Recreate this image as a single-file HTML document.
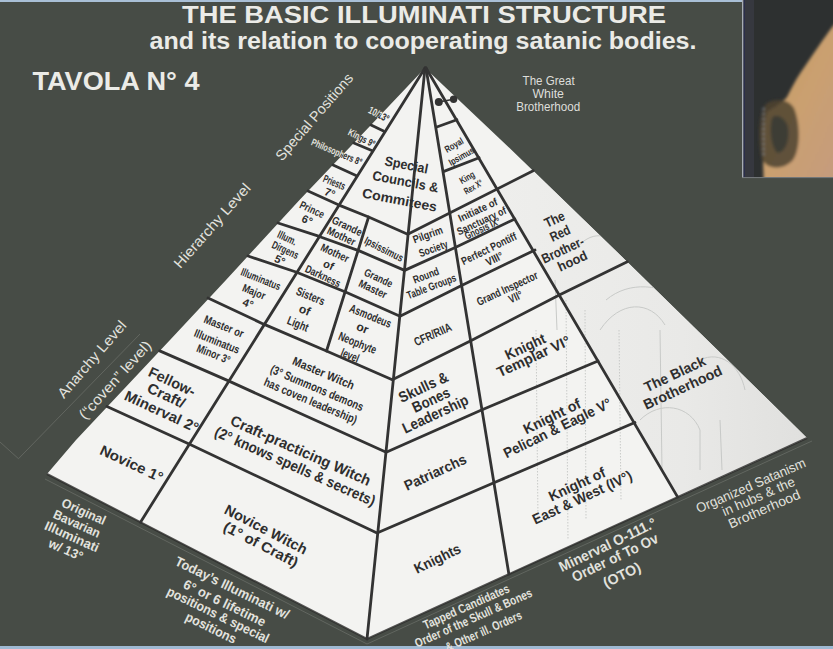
<!DOCTYPE html>
<html><head><meta charset="utf-8"><style>
html,body{margin:0;padding:0;background:#474c46;}
body{width:833px;height:649px;overflow:hidden;position:relative;font-family:"Liberation Sans",sans-serif;}
</style></head><body>
<svg width="833" height="649" viewBox="0 0 833 649" style="position:absolute;left:0;top:0"><defs><clipPath id="pyrclip"><polygon points="425.0,68.0 371.0,125.0 299.5,200.0 226.0,280.0 170.0,340.0 76.0,440.0 47.0,474.0 367.0,639.0 807.0,438.0 717.4,350.0 615.0,250.0 511.6,150.0"/></clipPath><linearGradient id="bgg" x1="0" y1="0" x2="0" y2="1"><stop offset="0" stop-color="#43463f"/><stop offset="1" stop-color="#3a3c38"/></linearGradient></defs><rect width="833" height="649" fill="#474c46"/><g stroke="#9a9c96" stroke-width="0.8" fill="none" opacity="0.4"><polyline points="0.0,442.0 18.5,458.7 140.0,334.0"/><polyline points="45.0,479.0 367.0,644.0 812.0,441.0"/></g><rect x="0" y="0" width="833" height="2" fill="#a9bfd6"/><rect x="0" y="646" width="833" height="3" fill="#9fb9d3"/><defs><linearGradient id="skin" x1="0" y1="0" x2="1" y2="1"><stop offset="0" stop-color="#c29a5e"/><stop offset="0.5" stop-color="#caa070"/><stop offset="1" stop-color="#c49a80"/></linearGradient></defs><rect x="742" y="0" width="91" height="178" fill="#2b2d2e"/><rect x="742" y="0" width="91" height="178" fill="#2f3331" opacity="0.5"/><rect x="745" y="0" width="9" height="178" fill="#383b44" opacity="0.8"/><defs><filter id="pb" x="-10%" y="-10%" width="120%" height="120%"><feGaussianBlur stdDeviation="1.6"/></filter><clipPath id="photoclip"><rect x="744" y="0" width="89" height="177"/></clipPath></defs><g clip-path="url(#photoclip)"><g filter="url(#pb)"><path d="M845,14 L833,26 C824,38 812,56 801,72 C795,81 791,89 787,97 C781,104 774,107 767,112 L762,130 L764,190 L845,190 Z" fill="url(#skin)"/><path d="M766,104 C758,115 758,142 762,160 C768,170 784,170 793,160 C801,148 800,122 794,108 C788,98 774,98 766,104 Z" fill="#4f4330" opacity="0.85"/><path d="M772,118 C769,130 771,146 777,153 C785,153 790,141 788,127 C785,117 776,113 772,118 Z" fill="#353a33" opacity="0.8"/><line x1="763.5" y1="108" x2="763.5" y2="158" stroke="#9aa3ae" stroke-width="1.6" stroke-dasharray="2 3" opacity="0.8"/></g></g><line x1="742.8" y1="0" x2="742.8" y2="178" stroke="#d0d6e0" stroke-width="1.1"/><line x1="744.2" y1="0" x2="744.2" y2="178" stroke="#2a2e58" stroke-width="1"/><line x1="742" y1="177.6" x2="833" y2="177.6" stroke="#7a7e80" stroke-width="1"/><polygon points="425.0,68.0 371.0,125.0 299.5,200.0 226.0,280.0 170.0,340.0 76.0,440.0 47.0,474.0 367.0,639.0 807.0,438.0 717.4,350.0 615.0,250.0 511.6,150.0" fill="#f3f3f1"/><defs><linearGradient id="rf3g" x1="0" y1="0" x2="1" y2="0"><stop offset="0" stop-color="#eeeeec"/><stop offset="0.6" stop-color="#e9e9e7"/><stop offset="1" stop-color="#e0e0de"/></linearGradient></defs><polygon points="497.3,189.0 533.2,170.7 615.0,250.0 717.4,350.0 807.0,438.0 677.7,497.1" fill="url(#rf3g)"/><g stroke="#c4c6c4" stroke-width="1" fill="none" opacity="0.9" clip-path="url(#pyrclip)"><path d="M536,330 L538,520 M566,300 L568,540 M585,310 L586,520 M619,330 L621,500" stroke-dasharray="1.5 1.5"/><path d="M600,330 C620,300 650,300 665,325 M660,330 L662,470 M700,360 C720,350 740,365 745,390 M640,420 C660,400 690,405 700,430 L700,470 M606,300 C630,280 660,285 690,300 M720,420 L722,470 M575,250 C590,230 610,232 620,250 M555,280 L557,330"/></g><polyline points="47.0,474.0 367.0,639.0 807.0,438.0" fill="none" stroke="#2a2b29" stroke-width="2" opacity="0.8"/><polyline points="425.0,68.0 367.0,639.0" fill="none" stroke="#333333" stroke-width="2.8" stroke-linejoin="round" stroke-linecap="round"/><polyline points="425.0,68.0 140.5,522.2" fill="none" stroke="#333333" stroke-width="2.8" stroke-linejoin="round" stroke-linecap="round"/><polyline points="368.6,217.0 326.5,351.0" fill="none" stroke="#333333" stroke-width="2.8" stroke-linejoin="round" stroke-linecap="round"/><polyline points="426.0,68.0 508.9,574.2" fill="none" stroke="#333333" stroke-width="2.8" stroke-linejoin="round" stroke-linecap="round"/><polyline points="426.0,68.0 677.7,497.1" fill="none" stroke="#333333" stroke-width="2.8" stroke-linejoin="round" stroke-linecap="round"/><polyline points="308.0,191.0 337.8,204.6 368.6,217.0 407.7,234.3 533.2,170.7" fill="none" stroke="#333333" stroke-width="2.8" stroke-linejoin="round" stroke-linecap="round"/><polyline points="278.0,223.0 318.5,236.2 359.3,250.9 404.6,270.4 456.3,247.0 514.8,219.0" fill="none" stroke="#333333" stroke-width="2.8" stroke-linejoin="round" stroke-linecap="round"/><polyline points="248.0,256.0 296.0,272.0 345.5,292.0 400.0,316.2 461.6,285.4 535.0,250.0" fill="none" stroke="#333333" stroke-width="2.8" stroke-linejoin="round" stroke-linecap="round"/><polyline points="208.0,298.0 263.1,323.9 326.5,351.0 392.3,379.7 471.3,340.5 559.3,295.0 627.3,261.7" fill="none" stroke="#333333" stroke-width="2.8" stroke-linejoin="round" stroke-linecap="round"/><polyline points="159.7,350.9 228.5,380.9 386.2,452.3 481.5,410.0 598.0,361.0" fill="none" stroke="#333333" stroke-width="2.8" stroke-linejoin="round" stroke-linecap="round"/><polyline points="107.0,406.5 189.1,444.0 377.0,533.0 494.5,482.5 634.9,422.5" fill="none" stroke="#333333" stroke-width="2.8" stroke-linejoin="round" stroke-linecap="round"/><polyline points="371.0,125.0 383.5,131.0" fill="none" stroke="#333333" stroke-width="2.8" stroke-linejoin="round" stroke-linecap="round"/><polyline points="353.8,143.0 371.7,150.5" fill="none" stroke="#333333" stroke-width="2.8" stroke-linejoin="round" stroke-linecap="round"/><polyline points="333.0,165.0 356.0,175.5" fill="none" stroke="#333333" stroke-width="2.8" stroke-linejoin="round" stroke-linecap="round"/><polyline points="436.8,127.0 456.9,119.8" fill="none" stroke="#333333" stroke-width="2.8" stroke-linejoin="round" stroke-linecap="round"/><polyline points="443.9,171.4 479.1,157.8" fill="none" stroke="#333333" stroke-width="2.8" stroke-linejoin="round" stroke-linecap="round"/><circle cx="438.8" cy="102" r="4" fill="#333333"/><circle cx="453.6" cy="99.2" r="3.7" fill="#333333"/><line x1="438.8" y1="102" x2="453.6" y2="99.2" stroke="#333333" stroke-width="1.6"/><g font-family="Liberation Sans, sans-serif"><g transform="translate(182.0,23.1) rotate(0)"><text text-anchor="start" font-size="24" font-weight="bold" fill="#ebebe7"><tspan x="0" y="0.00" textLength="484" lengthAdjust="spacingAndGlyphs">THE BASIC ILLUMINATI STRUCTURE</tspan></text></g><g transform="translate(149.5,49.0) rotate(0)"><text text-anchor="start" font-size="23" font-weight="bold" fill="#ebebe7"><tspan x="0" y="0.00" textLength="547" lengthAdjust="spacingAndGlyphs">and its relation to cooperating satanic bodies.</tspan></text></g><g transform="translate(32.5,90.0) rotate(0)"><text text-anchor="start" font-size="26.5" font-weight="bold" fill="#ebebe7"><tspan x="0" y="0.00" textLength="167" lengthAdjust="spacingAndGlyphs">TAVOLA N° 4</tspan></text></g><g transform="translate(548.6,85.0) rotate(0)"><text text-anchor="middle" font-size="13.5" font-weight="normal" fill="#dededa"><tspan x="0" y="0.00" textLength="52" lengthAdjust="spacingAndGlyphs">The Great</tspan></text></g><g transform="translate(548.2,97.5) rotate(0)"><text text-anchor="middle" font-size="13.5" font-weight="normal" fill="#dededa"><tspan x="0" y="0.00" textLength="31.5" lengthAdjust="spacingAndGlyphs">White</tspan></text></g><g transform="translate(548.2,110.5) rotate(0)"><text text-anchor="middle" font-size="13.5" font-weight="normal" fill="#dededa"><tspan x="0" y="0.00" textLength="64" lengthAdjust="spacingAndGlyphs">Brotherhood</tspan></text></g><g transform="translate(282.0,161.7) rotate(-49.05)"><text text-anchor="start" font-size="14.5" font-weight="normal" fill="#e2e2de"><tspan x="0" y="0.00" textLength="110.0" lengthAdjust="spacingAndGlyphs">Special Positions</tspan></text></g><g transform="translate(180.3,269.2) rotate(-48.54)"><text text-anchor="start" font-size="14.5" font-weight="normal" fill="#e2e2de"><tspan x="0" y="0.00" textLength="107.5" lengthAdjust="spacingAndGlyphs">Hierarchy Level</tspan></text></g><g transform="translate(64.0,399.2) rotate(-49.19)"><text text-anchor="start" font-size="14.5" font-weight="normal" fill="#e2e2de"><tspan x="0" y="0.00" textLength="96.7" lengthAdjust="spacingAndGlyphs">Anarchy Level</tspan></text></g><g transform="translate(85.1,420.2) rotate(-47.84)"><text text-anchor="start" font-size="14.5" font-weight="normal" fill="#e2e2de"><tspan x="0" y="0.00" textLength="100.0" lengthAdjust="spacingAndGlyphs">(“coven” level)</tspan></text></g><g transform="translate(379.0,114.0) rotate(27)"><text text-anchor="middle" dominant-baseline="central" font-size="10.5" font-weight="bold" fill="#e2e2de"><tspan x="0" y="0.00" textLength="22" lengthAdjust="spacingAndGlyphs">10/13°</tspan></text></g><g transform="translate(362.0,137.5) rotate(27)"><text text-anchor="middle" dominant-baseline="central" font-size="10" font-weight="bold" fill="#e2e2de"><tspan x="0" y="0.00" textLength="29" lengthAdjust="spacingAndGlyphs">Kings 9°</tspan></text></g><g transform="translate(337.0,151.5) rotate(23)"><text text-anchor="middle" dominant-baseline="central" font-size="10" font-weight="bold" fill="#e2e2de"><tspan x="0" y="0.00" textLength="54" lengthAdjust="spacingAndGlyphs">Philosophers 8°</tspan></text></g><g clip-path="url(#pyrclip)"><g transform="translate(379.0,114.0) rotate(27)"><text text-anchor="middle" dominant-baseline="central" font-size="10.5" font-weight="bold" fill="#2e2e2e"><tspan x="0" y="0.00" textLength="22" lengthAdjust="spacingAndGlyphs">10/13°</tspan></text></g></g><g clip-path="url(#pyrclip)"><g transform="translate(362.0,137.5) rotate(27)"><text text-anchor="middle" dominant-baseline="central" font-size="10" font-weight="bold" fill="#2e2e2e"><tspan x="0" y="0.00" textLength="29" lengthAdjust="spacingAndGlyphs">Kings 9°</tspan></text></g></g><g clip-path="url(#pyrclip)"><g transform="translate(337.0,151.5) rotate(23)"><text text-anchor="middle" dominant-baseline="central" font-size="10" font-weight="bold" fill="#2e2e2e"><tspan x="0" y="0.00" textLength="54" lengthAdjust="spacingAndGlyphs">Philosophers 8°</tspan></text></g></g><g transform="translate(334.4,182.2) rotate(22)"><text text-anchor="middle" dominant-baseline="central" font-size="11" font-weight="bold" fill="#2e2e2e"><tspan x="0" y="0.00" textLength="23" lengthAdjust="spacingAndGlyphs">Priests</tspan></text></g><g transform="translate(330.0,192.7) rotate(22)"><text text-anchor="middle" dominant-baseline="central" font-size="11" font-weight="bold" fill="#2e2e2e"><tspan x="0" y="0.00">7°</tspan></text></g><g transform="translate(312.2,209.3) rotate(25)"><text text-anchor="middle" dominant-baseline="central" font-size="11" font-weight="bold" fill="#2e2e2e"><tspan x="0" y="0.00" textLength="26" lengthAdjust="spacingAndGlyphs">Prince</tspan></text></g><g transform="translate(307.3,219.8) rotate(25)"><text text-anchor="middle" dominant-baseline="central" font-size="11" font-weight="bold" fill="#2e2e2e"><tspan x="0" y="0.00">6°</tspan></text></g><g transform="translate(287.3,237.7) rotate(25)"><text text-anchor="middle" dominant-baseline="central" font-size="11" font-weight="bold" fill="#2e2e2e"><tspan x="0" y="0.00" textLength="20" lengthAdjust="spacingAndGlyphs">Illum.</tspan></text></g><g transform="translate(285.5,249.7) rotate(25)"><text text-anchor="middle" dominant-baseline="central" font-size="11" font-weight="bold" fill="#2e2e2e"><tspan x="0" y="0.00" textLength="28" lengthAdjust="spacingAndGlyphs">Dirgens</tspan></text></g><g transform="translate(280.0,259.9) rotate(25)"><text text-anchor="middle" dominant-baseline="central" font-size="11" font-weight="bold" fill="#2e2e2e"><tspan x="0" y="0.00">5°</tspan></text></g><g transform="translate(260.9,278.9) rotate(22)"><text text-anchor="middle" dominant-baseline="central" font-size="11" font-weight="bold" fill="#2e2e2e"><tspan x="0" y="0.00" textLength="42" lengthAdjust="spacingAndGlyphs">Illuminatus</tspan></text></g><g transform="translate(254.0,291.6) rotate(22)"><text text-anchor="middle" dominant-baseline="central" font-size="11" font-weight="bold" fill="#2e2e2e"><tspan x="0" y="0.00" textLength="24" lengthAdjust="spacingAndGlyphs">Major</tspan></text></g><g transform="translate(248.2,303.2) rotate(22)"><text text-anchor="middle" dominant-baseline="central" font-size="11" font-weight="bold" fill="#2e2e2e"><tspan x="0" y="0.00">4°</tspan></text></g><g transform="translate(223.9,326.3) rotate(22)"><text text-anchor="middle" dominant-baseline="central" font-size="11.5" font-weight="bold" fill="#2e2e2e"><tspan x="0" y="0.00" textLength="42" lengthAdjust="spacingAndGlyphs">Master or</tspan></text></g><g transform="translate(217.0,341.3) rotate(22)"><text text-anchor="middle" dominant-baseline="central" font-size="11.5" font-weight="bold" fill="#2e2e2e"><tspan x="0" y="0.00" textLength="48" lengthAdjust="spacingAndGlyphs">Illuminatus</tspan></text></g><g transform="translate(213.5,354.0) rotate(22)"><text text-anchor="middle" dominant-baseline="central" font-size="11.5" font-weight="bold" fill="#2e2e2e"><tspan x="0" y="0.00" textLength="35" lengthAdjust="spacingAndGlyphs">Minor 3°</tspan></text></g><g transform="translate(172.0,381.6) rotate(25)"><text text-anchor="middle" dominant-baseline="central" font-size="14.5" font-weight="bold" fill="#2e2e2e"><tspan x="0" y="0.00" textLength="50" lengthAdjust="spacingAndGlyphs">Fellow-</tspan></text></g><g transform="translate(166.3,395.5) rotate(25)"><text text-anchor="middle" dominant-baseline="central" font-size="14.5" font-weight="bold" fill="#2e2e2e"><tspan x="0" y="0.00" textLength="40" lengthAdjust="spacingAndGlyphs">Craft/</tspan></text></g><g transform="translate(161.6,411.6) rotate(25)"><text text-anchor="middle" dominant-baseline="central" font-size="14.5" font-weight="bold" fill="#2e2e2e"><tspan x="0" y="0.00" textLength="80" lengthAdjust="spacingAndGlyphs">Minerval 2°</tspan></text></g><g transform="translate(131.6,463.6) rotate(25)"><text text-anchor="middle" dominant-baseline="central" font-size="14.5" font-weight="bold" fill="#2e2e2e"><tspan x="0" y="0.00" textLength="68" lengthAdjust="spacingAndGlyphs">Novice 1°</tspan></text></g><g transform="translate(406.5,164.5) rotate(11)"><text text-anchor="middle" dominant-baseline="central" font-size="13.5" font-weight="bold" fill="#2e2e2e"><tspan x="0" y="0.00" textLength="44" lengthAdjust="spacingAndGlyphs">Special</tspan></text></g><g transform="translate(405.6,181.3) rotate(11)"><text text-anchor="middle" dominant-baseline="central" font-size="13.5" font-weight="bold" fill="#2e2e2e"><tspan x="0" y="0.00" textLength="67" lengthAdjust="spacingAndGlyphs">Councils &amp;</tspan></text></g><g transform="translate(399.7,199.7) rotate(11)"><text text-anchor="middle" dominant-baseline="central" font-size="13.5" font-weight="bold" fill="#2e2e2e"><tspan x="0" y="0.00" textLength="76" lengthAdjust="spacingAndGlyphs">Commitees</tspan></text></g><g transform="translate(347.2,225.9) rotate(25)"><text text-anchor="middle" dominant-baseline="central" font-size="11" font-weight="bold" fill="#2e2e2e"><tspan x="0" y="0.00" textLength="32" lengthAdjust="spacingAndGlyphs">Grande</tspan></text></g><g transform="translate(341.6,236.0) rotate(25)"><text text-anchor="middle" dominant-baseline="central" font-size="11" font-weight="bold" fill="#2e2e2e"><tspan x="0" y="0.00" textLength="30" lengthAdjust="spacingAndGlyphs">Mother</tspan></text></g><g transform="translate(384.1,249.0) rotate(27)"><text text-anchor="middle" dominant-baseline="central" font-size="11" font-weight="bold" fill="#2e2e2e"><tspan x="0" y="0.00" textLength="42" lengthAdjust="spacingAndGlyphs">Ipsissimus</tspan></text></g><g transform="translate(335.1,252.7) rotate(25)"><text text-anchor="middle" dominant-baseline="central" font-size="11" font-weight="bold" fill="#2e2e2e"><tspan x="0" y="0.00" textLength="30" lengthAdjust="spacingAndGlyphs">Mother</tspan></text></g><g transform="translate(328.7,264.7) rotate(25)"><text text-anchor="middle" dominant-baseline="central" font-size="11" font-weight="bold" fill="#2e2e2e"><tspan x="0" y="0.00">of</tspan></text></g><g transform="translate(323.1,275.8) rotate(25)"><text text-anchor="middle" dominant-baseline="central" font-size="11" font-weight="bold" fill="#2e2e2e"><tspan x="0" y="0.00" textLength="38" lengthAdjust="spacingAndGlyphs">Darkness</tspan></text></g><g transform="translate(378.6,277.7) rotate(25)"><text text-anchor="middle" dominant-baseline="central" font-size="11" font-weight="bold" fill="#2e2e2e"><tspan x="0" y="0.00" textLength="30" lengthAdjust="spacingAndGlyphs">Grande</tspan></text></g><g transform="translate(373.0,288.8) rotate(25)"><text text-anchor="middle" dominant-baseline="central" font-size="11" font-weight="bold" fill="#2e2e2e"><tspan x="0" y="0.00" textLength="30" lengthAdjust="spacingAndGlyphs">Master</tspan></text></g><g transform="translate(310.6,296.2) rotate(22)"><text text-anchor="middle" dominant-baseline="central" font-size="12" font-weight="bold" fill="#2e2e2e"><tspan x="0" y="0.00" textLength="30" lengthAdjust="spacingAndGlyphs">Sisters</tspan></text></g><g transform="translate(304.8,310.1) rotate(22)"><text text-anchor="middle" dominant-baseline="central" font-size="12" font-weight="bold" fill="#2e2e2e"><tspan x="0" y="0.00">of</tspan></text></g><g transform="translate(297.9,324.0) rotate(22)"><text text-anchor="middle" dominant-baseline="central" font-size="12" font-weight="bold" fill="#2e2e2e"><tspan x="0" y="0.00" textLength="22" lengthAdjust="spacingAndGlyphs">Light</tspan></text></g><g transform="translate(370.5,316.0) rotate(22)"><text text-anchor="middle" dominant-baseline="central" font-size="12" font-weight="bold" fill="#2e2e2e"><tspan x="0" y="0.00" textLength="44" lengthAdjust="spacingAndGlyphs">Asmodeus</tspan></text></g><g transform="translate(362.5,328.0) rotate(22)"><text text-anchor="middle" dominant-baseline="central" font-size="12" font-weight="bold" fill="#2e2e2e"><tspan x="0" y="0.00">or</tspan></text></g><g transform="translate(357.5,343.0) rotate(22)"><text text-anchor="middle" dominant-baseline="central" font-size="12" font-weight="bold" fill="#2e2e2e"><tspan x="0" y="0.00" textLength="40" lengthAdjust="spacingAndGlyphs">Neophyte</tspan></text></g><g transform="translate(350.0,355.5) rotate(22)"><text text-anchor="middle" dominant-baseline="central" font-size="12" font-weight="bold" fill="#2e2e2e"><tspan x="0" y="0.00" textLength="19" lengthAdjust="spacingAndGlyphs">level</tspan></text></g><g transform="translate(323.5,373.2) rotate(23)"><text text-anchor="middle" dominant-baseline="central" font-size="12" font-weight="bold" fill="#2e2e2e"><tspan x="0" y="0.00" textLength="66" lengthAdjust="spacingAndGlyphs">Master Witch</tspan></text></g><g transform="translate(317.0,388.2) rotate(23)"><text text-anchor="middle" dominant-baseline="central" font-size="12" font-weight="bold" fill="#2e2e2e"><tspan x="0" y="0.00" textLength="100" lengthAdjust="spacingAndGlyphs">(3° Summons demons</tspan></text></g><g transform="translate(310.5,400.9) rotate(23)"><text text-anchor="middle" dominant-baseline="central" font-size="12" font-weight="bold" fill="#2e2e2e"><tspan x="0" y="0.00" textLength="100" lengthAdjust="spacingAndGlyphs">has coven leadership)</tspan></text></g><g transform="translate(301.0,449.8) rotate(24)"><text text-anchor="middle" dominant-baseline="central" font-size="15" font-weight="bold" fill="#2e2e2e"><tspan x="0" y="0.00" textLength="152" lengthAdjust="spacingAndGlyphs">Craft-practicing Witch</tspan></text></g><g transform="translate(295.5,465.5) rotate(24)"><text text-anchor="middle" dominant-baseline="central" font-size="15" font-weight="bold" fill="#2e2e2e"><tspan x="0" y="0.00" textLength="174" lengthAdjust="spacingAndGlyphs">(2° knows spells &amp; secrets)</tspan></text></g><g transform="translate(266.0,529.5) rotate(27.5)"><text text-anchor="middle" dominant-baseline="central" font-size="14.5" font-weight="bold" fill="#2e2e2e"><tspan x="0" y="0.00" textLength="91" lengthAdjust="spacingAndGlyphs">Novice Witch</tspan></text></g><g transform="translate(261.0,544.5) rotate(27.5)"><text text-anchor="middle" dominant-baseline="central" font-size="14.5" font-weight="bold" fill="#2e2e2e"><tspan x="0" y="0.00" textLength="82" lengthAdjust="spacingAndGlyphs">(1° of Craft)</tspan></text></g><g transform="translate(427.7,234.5) rotate(-20)"><text text-anchor="middle" dominant-baseline="central" font-size="11" font-weight="bold" fill="#2e2e2e"><tspan x="0" y="0.00" textLength="31" lengthAdjust="spacingAndGlyphs">Pilgrim</tspan></text></g><g transform="translate(433.3,248.4) rotate(-20)"><text text-anchor="middle" dominant-baseline="central" font-size="11" font-weight="bold" fill="#2e2e2e"><tspan x="0" y="0.00" textLength="30" lengthAdjust="spacingAndGlyphs">Society</tspan></text></g><g transform="translate(425.9,275.2) rotate(-21)"><text text-anchor="middle" dominant-baseline="central" font-size="11" font-weight="bold" fill="#2e2e2e"><tspan x="0" y="0.00" textLength="27" lengthAdjust="spacingAndGlyphs">Round</tspan></text></g><g transform="translate(431.4,286.3) rotate(-21)"><text text-anchor="middle" dominant-baseline="central" font-size="11" font-weight="bold" fill="#2e2e2e"><tspan x="0" y="0.00" textLength="52" lengthAdjust="spacingAndGlyphs">Table Groups</tspan></text></g><g transform="translate(432.8,334.5) rotate(-24)"><text text-anchor="middle" dominant-baseline="central" font-size="12" font-weight="bold" fill="#2e2e2e"><tspan x="0" y="0.00" textLength="40" lengthAdjust="spacingAndGlyphs">CFR/RIIA</tspan></text></g><g transform="translate(423.1,386.3) rotate(-25)"><text text-anchor="middle" dominant-baseline="central" font-size="15" font-weight="bold" fill="#2e2e2e"><tspan x="0" y="0.00" textLength="53" lengthAdjust="spacingAndGlyphs">Skulls &amp;</tspan></text></g><g transform="translate(430.7,399.2) rotate(-25)"><text text-anchor="middle" dominant-baseline="central" font-size="15" font-weight="bold" fill="#2e2e2e"><tspan x="0" y="0.00" textLength="40" lengthAdjust="spacingAndGlyphs">Bones</tspan></text></g><g transform="translate(435.0,413.2) rotate(-25)"><text text-anchor="middle" dominant-baseline="central" font-size="15" font-weight="bold" fill="#2e2e2e"><tspan x="0" y="0.00" textLength="71" lengthAdjust="spacingAndGlyphs">Leadership</tspan></text></g><g transform="translate(435.3,472.3) rotate(-25)"><text text-anchor="middle" dominant-baseline="central" font-size="14.5" font-weight="bold" fill="#2e2e2e"><tspan x="0" y="0.00" textLength="67" lengthAdjust="spacingAndGlyphs">Patriarchs</tspan></text></g><g transform="translate(437.4,558.6) rotate(-26)"><text text-anchor="middle" dominant-baseline="central" font-size="14.5" font-weight="bold" fill="#2e2e2e"><tspan x="0" y="0.00" textLength="50" lengthAdjust="spacingAndGlyphs">Knights</tspan></text></g><g transform="translate(453.6,144.5) rotate(-30)"><text text-anchor="middle" dominant-baseline="central" font-size="9.5" font-weight="bold" fill="#2e2e2e"><tspan x="0" y="0.00" textLength="20" lengthAdjust="spacingAndGlyphs">Royal</tspan></text></g><g transform="translate(461.0,155.6) rotate(-30)"><text text-anchor="middle" dominant-baseline="central" font-size="9.5" font-weight="bold" fill="#2e2e2e"><tspan x="0" y="0.00" textLength="28" lengthAdjust="spacingAndGlyphs">Ipsimus</tspan></text></g><g transform="translate(466.6,176.9) rotate(-30)"><text text-anchor="middle" dominant-baseline="central" font-size="9.5" font-weight="bold" fill="#2e2e2e"><tspan x="0" y="0.00" textLength="16" lengthAdjust="spacingAndGlyphs">King</tspan></text></g><g transform="translate(473.0,186.2) rotate(-30)"><text text-anchor="middle" dominant-baseline="central" font-size="9.5" font-weight="bold" fill="#2e2e2e"><tspan x="0" y="0.00" textLength="20" lengthAdjust="spacingAndGlyphs">Rex X°</tspan></text></g><g transform="translate(477.7,209.6) rotate(-25)"><text text-anchor="middle" dominant-baseline="central" font-size="10.5" font-weight="bold" fill="#2e2e2e"><tspan x="0" y="0.00" textLength="42" lengthAdjust="spacingAndGlyphs">Initiate of</tspan></text></g><g transform="translate(481.4,220.6) rotate(-25)"><text text-anchor="middle" dominant-baseline="central" font-size="10.5" font-weight="bold" fill="#2e2e2e"><tspan x="0" y="0.00" textLength="53" lengthAdjust="spacingAndGlyphs">Sanctuary of</tspan></text></g><g transform="translate(482.3,228.0) rotate(-25)"><text text-anchor="middle" dominant-baseline="central" font-size="10.5" font-weight="bold" fill="#2e2e2e"><tspan x="0" y="0.00" textLength="38" lengthAdjust="spacingAndGlyphs">Gnosis IX°</tspan></text></g><g transform="translate(488.8,248.4) rotate(-26)"><text text-anchor="middle" dominant-baseline="central" font-size="11" font-weight="bold" fill="#2e2e2e"><tspan x="0" y="0.00" textLength="60" lengthAdjust="spacingAndGlyphs">Perfect Pontiff</tspan></text></g><g transform="translate(494.3,258.6) rotate(-26)"><text text-anchor="middle" dominant-baseline="central" font-size="11" font-weight="bold" fill="#2e2e2e"><tspan x="0" y="0.00" textLength="18" lengthAdjust="spacingAndGlyphs">VIII°</tspan></text></g><g transform="translate(507.1,288.4) rotate(-25)"><text text-anchor="middle" dominant-baseline="central" font-size="11.5" font-weight="bold" fill="#2e2e2e"><tspan x="0" y="0.00" textLength="66" lengthAdjust="spacingAndGlyphs">Grand Inspector</tspan></text></g><g transform="translate(515.5,296.8) rotate(-25)"><text text-anchor="middle" dominant-baseline="central" font-size="11.5" font-weight="bold" fill="#2e2e2e"><tspan x="0" y="0.00" textLength="14" lengthAdjust="spacingAndGlyphs">VII°</tspan></text></g><g transform="translate(525.2,346.7) rotate(-25)"><text text-anchor="middle" dominant-baseline="central" font-size="14.5" font-weight="bold" fill="#2e2e2e"><tspan x="0" y="0.00" textLength="43" lengthAdjust="spacingAndGlyphs">Knight</tspan></text></g><g transform="translate(533.5,356.4) rotate(-25)"><text text-anchor="middle" dominant-baseline="central" font-size="14.5" font-weight="bold" fill="#2e2e2e"><tspan x="0" y="0.00" textLength="79" lengthAdjust="spacingAndGlyphs">Templar VI°</tspan></text></g><g transform="translate(552.0,416.3) rotate(-26)"><text text-anchor="middle" dominant-baseline="central" font-size="14.5" font-weight="bold" fill="#2e2e2e"><tspan x="0" y="0.00" textLength="62" lengthAdjust="spacingAndGlyphs">Knight of</tspan></text></g><g transform="translate(557.3,428.1) rotate(-26)"><text text-anchor="middle" dominant-baseline="central" font-size="14.5" font-weight="bold" fill="#2e2e2e"><tspan x="0" y="0.00" textLength="118" lengthAdjust="spacingAndGlyphs">Pelican &amp; Eagle V°</tspan></text></g><g transform="translate(577.0,484.4) rotate(-25)"><text text-anchor="middle" dominant-baseline="central" font-size="14.5" font-weight="bold" fill="#2e2e2e"><tspan x="0" y="0.00" textLength="61" lengthAdjust="spacingAndGlyphs">Knight of</tspan></text></g><g transform="translate(582.2,497.5) rotate(-25)"><text text-anchor="middle" dominant-baseline="central" font-size="14.5" font-weight="bold" fill="#2e2e2e"><tspan x="0" y="0.00" textLength="108" lengthAdjust="spacingAndGlyphs">East &amp; West (IV°)</tspan></text></g><g transform="translate(554.3,219.1) rotate(-25)"><text text-anchor="middle" dominant-baseline="central" font-size="13.5" font-weight="bold" fill="#2e2e2e"><tspan x="0" y="0.00" textLength="21" lengthAdjust="spacingAndGlyphs">The</tspan></text></g><g transform="translate(559.8,233.0) rotate(-25)"><text text-anchor="middle" dominant-baseline="central" font-size="13.5" font-weight="bold" fill="#2e2e2e"><tspan x="0" y="0.00" textLength="21" lengthAdjust="spacingAndGlyphs">Red</tspan></text></g><g transform="translate(562.6,249.6) rotate(-25)"><text text-anchor="middle" dominant-baseline="central" font-size="13.5" font-weight="bold" fill="#2e2e2e"><tspan x="0" y="0.00" textLength="45" lengthAdjust="spacingAndGlyphs">Brother-</tspan></text></g><g transform="translate(572.3,260.7) rotate(-25)"><text text-anchor="middle" dominant-baseline="central" font-size="13.5" font-weight="bold" fill="#2e2e2e"><tspan x="0" y="0.00" textLength="31" lengthAdjust="spacingAndGlyphs">hood</tspan></text></g><g transform="translate(674.8,373.9) rotate(-25)"><text text-anchor="middle" dominant-baseline="central" font-size="14.5" font-weight="bold" fill="#2e2e2e"><tspan x="0" y="0.00" textLength="66" lengthAdjust="spacingAndGlyphs">The Black</tspan></text></g><g transform="translate(682.7,387.6) rotate(-25)"><text text-anchor="middle" dominant-baseline="central" font-size="14.5" font-weight="bold" fill="#2e2e2e"><tspan x="0" y="0.00" textLength="85" lengthAdjust="spacingAndGlyphs">Brotherhood</tspan></text></g><g transform="translate(84.1,511.1) rotate(24)"><text text-anchor="middle" dominant-baseline="central" font-size="13" font-weight="bold" fill="#e2e2de"><tspan x="0" y="0.00" textLength="47" lengthAdjust="spacingAndGlyphs">Original</tspan></text></g><g transform="translate(77.1,523.1) rotate(24)"><text text-anchor="middle" dominant-baseline="central" font-size="13" font-weight="bold" fill="#e2e2de"><tspan x="0" y="0.00" textLength="50" lengthAdjust="spacingAndGlyphs">Bavarian</tspan></text></g><g transform="translate(72.1,536.1) rotate(24)"><text text-anchor="middle" dominant-baseline="central" font-size="13" font-weight="bold" fill="#e2e2de"><tspan x="0" y="0.00" textLength="58" lengthAdjust="spacingAndGlyphs">Illuminati</tspan></text></g><g transform="translate(66.1,549.2) rotate(24)"><text text-anchor="middle" dominant-baseline="central" font-size="13" font-weight="bold" fill="#e2e2de"><tspan x="0" y="0.00" textLength="36" lengthAdjust="spacingAndGlyphs">w/ 13°</tspan></text></g><g transform="translate(232.4,587.5) rotate(26)"><text text-anchor="middle" dominant-baseline="central" font-size="13.5" font-weight="bold" fill="#e2e2de"><tspan x="0" y="0.00" textLength="125" lengthAdjust="spacingAndGlyphs">Today’s Illuminati w/</tspan></text></g><g transform="translate(224.8,602.7) rotate(26)"><text text-anchor="middle" dominant-baseline="central" font-size="13.5" font-weight="bold" fill="#e2e2de"><tspan x="0" y="0.00" textLength="90" lengthAdjust="spacingAndGlyphs">6° or 6 lifetime</tspan></text></g><g transform="translate(218.3,614.5) rotate(26)"><text text-anchor="middle" dominant-baseline="central" font-size="13.5" font-weight="bold" fill="#e2e2de"><tspan x="0" y="0.00" textLength="112" lengthAdjust="spacingAndGlyphs">positions &amp; special</tspan></text></g><g transform="translate(211.2,627.5) rotate(26)"><text text-anchor="middle" dominant-baseline="central" font-size="13.5" font-weight="bold" fill="#e2e2de"><tspan x="0" y="0.00" textLength="55" lengthAdjust="spacingAndGlyphs">positions</tspan></text></g><g transform="translate(466.3,606.9) rotate(-24)"><text text-anchor="middle" dominant-baseline="central" font-size="12.5" font-weight="bold" fill="#e2e2de"><tspan x="0" y="0.00" textLength="93" lengthAdjust="spacingAndGlyphs">Tapped Candidates</tspan></text></g><g transform="translate(473.5,618.2) rotate(-24)"><text text-anchor="middle" dominant-baseline="central" font-size="12.5" font-weight="bold" fill="#e2e2de"><tspan x="0" y="0.00" textLength="127" lengthAdjust="spacingAndGlyphs">Order of the Skull &amp; Bones</tspan></text></g><g transform="translate(483.7,631.4) rotate(-24)"><text text-anchor="middle" dominant-baseline="central" font-size="12.5" font-weight="bold" fill="#e2e2de"><tspan x="0" y="0.00" textLength="82" lengthAdjust="spacingAndGlyphs">&amp; Other ill. Orders</tspan></text></g><g transform="translate(607.5,544.8) rotate(-25.5)"><text text-anchor="middle" dominant-baseline="central" font-size="14.5" font-weight="bold" fill="#e2e2de"><tspan x="0" y="0.00" textLength="106" lengthAdjust="spacingAndGlyphs">Minerval O-111.°</tspan></text></g><g transform="translate(615.0,557.5) rotate(-25.5)"><text text-anchor="middle" dominant-baseline="central" font-size="14.5" font-weight="bold" fill="#e2e2de"><tspan x="0" y="0.00" textLength="94" lengthAdjust="spacingAndGlyphs">Order of To Ov</tspan></text></g><g transform="translate(621.8,574.9) rotate(-25.5)"><text text-anchor="middle" dominant-baseline="central" font-size="14.5" font-weight="bold" fill="#e2e2de"><tspan x="0" y="0.00" textLength="40" lengthAdjust="spacingAndGlyphs">(OTO)</tspan></text></g><g transform="translate(750.6,485.2) rotate(-23.5)"><text text-anchor="middle" dominant-baseline="central" font-size="13.5" font-weight="normal" fill="#e2e2de"><tspan x="0" y="0.00" textLength="118" lengthAdjust="spacingAndGlyphs">Organized Satanism</tspan></text></g><g transform="translate(758.2,496.1) rotate(-23.5)"><text text-anchor="middle" dominant-baseline="central" font-size="13.5" font-weight="normal" fill="#e2e2de"><tspan x="0" y="0.00" textLength="78" lengthAdjust="spacingAndGlyphs">in hubs &amp; the</tspan></text></g><g transform="translate(764.0,508.7) rotate(-23.5)"><text text-anchor="middle" dominant-baseline="central" font-size="13.5" font-weight="normal" fill="#e2e2de"><tspan x="0" y="0.00" textLength="77" lengthAdjust="spacingAndGlyphs">Brotherhood</tspan></text></g></g></svg>
</body></html>
